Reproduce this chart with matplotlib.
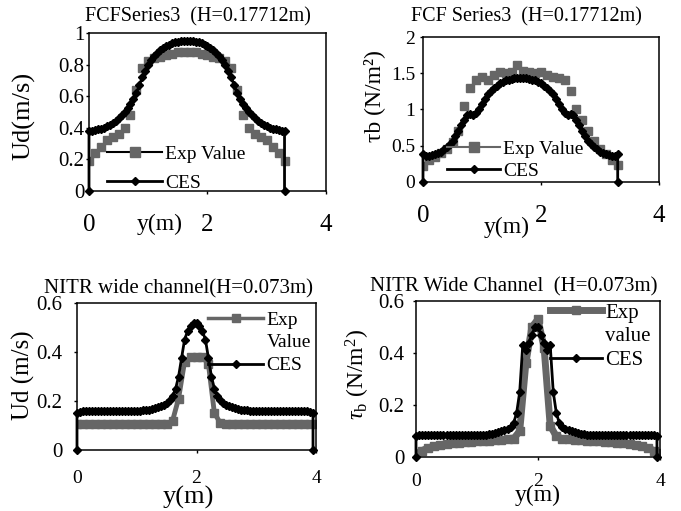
import numpy as np
import matplotlib
matplotlib.use('Agg')
import matplotlib.pyplot as plt
from matplotlib.lines import Line2D

plt.rcParams['font.family'] = ['Liberation Serif', 'DejaVu Serif']
plt.rcParams['mathtext.fontset'] = 'custom'
plt.rcParams['mathtext.rm'] = 'Liberation Serif'
plt.rcParams['mathtext.it'] = 'Liberation Serif:italic'

GRAY = '#666666'
W, H = 681, 511

# ---------------- data ----------------
# FCF Series 3: experiments every 0.1 m, CES every 0.05 m (plus the two wall points at 0)
fcf_exp_y = np.round(np.arange(34) * 0.1, 2)
fcf_ces_y = np.r_[0.0, np.round(np.arange(67) * 0.05, 2), 3.3]

fcf_ud_exp = [0.19, 0.24, 0.28, 0.32, 0.34, 0.36, 0.40, 0.48, 0.64, 0.78, 0.82, 0.84, 0.85, 0.86, 0.87, 0.88, 0.88,
              0.88, 0.88, 0.87, 0.86, 0.85, 0.84, 0.82, 0.78, 0.64, 0.48, 0.40, 0.36, 0.34, 0.32, 0.28, 0.24, 0.19]
fcf_ud_ces = [0.0,
              0.38, 0.382, 0.385, 0.39, 0.395, 0.40, 0.41, 0.42, 0.43, 0.445, 0.46, 0.48, 0.50, 0.525, 0.55, 0.58,
              0.62, 0.67, 0.72, 0.76, 0.80, 0.83, 0.855, 0.875, 0.89, 0.905, 0.915, 0.925, 0.935, 0.94, 0.945,
              0.948, 0.95, 0.95,
              0.95, 0.948, 0.945, 0.94, 0.935, 0.925, 0.915, 0.905, 0.89, 0.875, 0.855, 0.83, 0.80, 0.76, 0.72,
              0.67, 0.62, 0.58, 0.55, 0.525, 0.50, 0.48, 0.46, 0.445, 0.43, 0.42, 0.41, 0.40, 0.395, 0.39, 0.385,
              0.382, 0.38,
              0.0]

fcf_tau_exp = [0.22, 0.30, 0.34, 0.40, 0.46, 0.55, 0.70, 1.05, 1.30, 1.40, 1.45, 1.40, 1.48, 1.52, 1.50, 1.52, 1.62,
               1.53, 1.52, 1.50, 1.52, 1.48, 1.45, 1.44, 1.40, 1.25, 1.00, 0.85, 0.70, 0.56, 0.46, 0.38, 0.30, 0.24]
fcf_tau_ces = [0.0,
               0.38, 0.36, 0.36, 0.37, 0.38, 0.40, 0.42, 0.45, 0.48, 0.52, 0.57, 0.63, 0.70, 0.78, 0.86, 0.93,
               0.94, 0.92, 0.95, 1.01, 1.08, 1.15, 1.21, 1.26, 1.30, 1.33, 1.36, 1.38, 1.40, 1.41, 1.42, 1.43,
               1.43, 1.43,
               1.43, 1.43, 1.42, 1.41, 1.40, 1.38, 1.36, 1.33, 1.30, 1.26, 1.21, 1.15, 1.08, 1.01, 0.95, 0.92,
               0.94, 0.93, 0.86, 0.78, 0.70, 0.63, 0.57, 0.52, 0.48, 0.45, 0.42, 0.40, 0.38, 0.37, 0.36, 0.36, 0.38,
               0.0]

# NITR wide channel: experiments every 0.1 m, CES every 0.05 m
nitr_exp_y = np.round(np.arange(41) * 0.1, 2)
nitr_ces_y = np.r_[0.0, np.round(np.arange(80) * 0.05, 2), 3.95]

nitr_ud_exp = [0.105, 0.105, 0.105, 0.105, 0.105, 0.105, 0.105, 0.105,
               0.105, 0.105, 0.105, 0.105, 0.105, 0.105, 0.105, 0.105,
               0.12, 0.21, 0.36, 0.38, 0.38, 0.38, 0.35, 0.15, 0.11,
               0.105, 0.105, 0.105, 0.105, 0.105, 0.105, 0.105, 0.105,
               0.105, 0.105, 0.105, 0.105, 0.105, 0.105, 0.105, 0.105]
nitr_ud_ces = [0.0,
               0.15, 0.155, 0.158, 0.16,
               0.16, 0.16, 0.16, 0.16, 0.16, 0.16, 0.16, 0.16, 0.16,
               0.16, 0.16, 0.16, 0.16, 0.16, 0.16, 0.16, 0.16, 0.16,
               0.162, 0.163, 0.165, 0.168, 0.172, 0.176, 0.18, 0.185, 0.19,
               0.205, 0.22, 0.25, 0.30, 0.375, 0.45, 0.485, 0.505, 0.52,
               0.52, 0.505, 0.485, 0.45, 0.375, 0.30, 0.25, 0.22, 0.205,
               0.19, 0.185, 0.18, 0.176, 0.172, 0.168, 0.165, 0.163, 0.162,
               0.16, 0.16, 0.16, 0.16, 0.16, 0.16, 0.16, 0.16, 0.16,
               0.16, 0.16, 0.16, 0.16, 0.16, 0.16, 0.16, 0.16, 0.16,
               0.16, 0.158, 0.155, 0.15,
               0.0]

nitr_tau_exp = [0.01, 0.025, 0.035, 0.042, 0.047, 0.05, 0.053, 0.055,
                0.057, 0.058, 0.06, 0.06, 0.062, 0.064, 0.066, 0.068, 0.07,
                0.10, 0.36, 0.50, 0.53, 0.42, 0.12, 0.08,
                0.07, 0.068, 0.066, 0.064, 0.062, 0.06, 0.06, 0.058,
                0.057, 0.055, 0.053, 0.05, 0.047, 0.042, 0.035, 0.025, 0.015]
nitr_tau_ces = [0.0,
                0.08, 0.083, 0.083, 0.083, 0.083, 0.083, 0.083, 0.083,
                0.083, 0.083, 0.083, 0.083, 0.083, 0.083, 0.083, 0.083,
                0.083, 0.083, 0.083, 0.083, 0.083, 0.083, 0.083,
                0.085, 0.087, 0.09, 0.093, 0.097, 0.10, 0.103, 0.107,
                0.115, 0.13, 0.17, 0.25, 0.43, 0.41, 0.44, 0.47, 0.50,
                0.50, 0.47, 0.44, 0.41, 0.43, 0.25, 0.17, 0.13, 0.115,
                0.107, 0.103, 0.10, 0.097, 0.093, 0.09, 0.087, 0.085,
                0.083, 0.083, 0.083, 0.083, 0.083, 0.083, 0.083, 0.083,
                0.083, 0.083, 0.083, 0.083, 0.083, 0.083, 0.083, 0.083,
                0.083, 0.083, 0.083, 0.083, 0.083, 0.083, 0.08,
                0.0]


def px_axes(fig, left, top, right, bottom):
    return fig.add_axes([left / W, 1 - bottom / H, (right - left) / W, (bottom - top) / H])


def ftext(fig, x, y, s, size, **kw):
    fig.text(x / W, 1 - y / H, s, fontsize=size, ha='center', va='center', **kw)


def style(ax, ylim, yticks, xfs, yfs, xpad, ypad):
    ax.set_xlim(0, 4)
    ax.set_ylim(*ylim)
    ax.set_xticks([0, 2, 4])
    ax.set_yticks(yticks)
    ax.set_yticklabels(['%g' % t for t in yticks])
    ax.tick_params(axis='x', direction='out', length=2.5, width=1, labelsize=xfs, pad=xpad)
    ax.tick_params(axis='y', direction='out', length=2.5, width=1, labelsize=yfs, pad=ypad)
    for s in ax.spines.values():
        s.set_linewidth(1.1)


def ces(ax, y, v, ms=4.2):
    ax.plot(y, v, color='k', lw=2, marker='D', ms=ms, clip_on=False, zorder=3)


def legend(ax, handles, labels, x, y, fs, hl, sp):
    ax.legend(handles, labels, loc='upper left', bbox_to_anchor=(x / W, 1 - y / H),
              bbox_transform=fig.transFigure, frameon=False, fontsize=fs, handlelength=hl,
              handletextpad=0.15, labelspacing=sp, borderpad=0, borderaxespad=0)


fig = plt.figure(figsize=(W / 100, H / 100), dpi=100)

# ---------- top-left: FCF Ud ----------
ax1 = px_axes(fig, 89, 33, 326, 191)
ax1.plot(fcf_exp_y, fcf_ud_exp, ls='none', marker='s', ms=6, color=GRAY, zorder=2)
ces(ax1, fcf_ces_y, fcf_ud_ces)
style(ax1, (0, 1), [0, 0.2, 0.4, 0.6, 0.8, 1], 18, 15, 14, 1)
ftext(fig, 198, 17, 'FCFSeries3  (H=0.17712m)', 14.5)
ftext(fig, 24, 116, 'Ud(m/s)', 19, rotation=90)
ftext(fig, 160, 224, 'y(m)', 17)
h1 = [Line2D([], [], color='k', lw=1.5, marker='s', mfc=GRAY, mec=GRAY, ms=7),
      Line2D([], [], color='k', lw=2, marker='D', ms=4)]
legend(ax1, h1, ['Exp Value', 'CES'], 107, 145, 14, 2.85, 0.58)

# ---------- top-right: FCF tau ----------
ax2 = px_axes(fig, 423, 37, 659, 182)
ax2.plot(fcf_exp_y, fcf_tau_exp, ls='none', marker='s', ms=6, color=GRAY, zorder=2)
ces(ax2, fcf_ces_y, fcf_tau_ces)
style(ax2, (0, 2), [0, 0.5, 1, 1.5, 2], 18, 14, 14, 3)
ftext(fig, 526, 17, 'FCF Series3  (H=0.17712m)', 14.5)
ftext(fig, 374, 96, 'τb (N/m²)', 17, rotation=90)
ftext(fig, 507, 227, 'y(m)', 17)
h2 = [Line2D([], [], color=GRAY, lw=1.5, marker='s', mfc=GRAY, mec=GRAY, ms=7),
      Line2D([], [], color='k', lw=2, marker='D', ms=4)]
legend(ax2, h2, ['Exp Value', 'CES'], 447, 140, 14, 2.75, 0.25)

# ---------- bottom-left: NITR Ud ----------
ax3 = px_axes(fig, 77, 303, 316, 450)
ax3.plot(nitr_exp_y, nitr_ud_exp, color=GRAY, lw=3.5, marker='s', ms=6, zorder=2)
ces(ax3, nitr_ces_y, nitr_ud_ces, ms=3.8)
style(ax3, (0, 0.6), [0, 0.2, 0.4, 0.6], 14, 15, 12, 8)
ftext(fig, 179, 289, 'NITR wide channel(H=0.073m)', 15)
ftext(fig, 23, 375, 'Ud (m/s)', 18, rotation=90)
ftext(fig, 188, 497, 'y(m)', 19)
h3 = [Line2D([], [], color=GRAY, lw=2.5, marker='s', ms=6),
      Line2D([], [], color='none'),
      Line2D([], [], color='k', lw=2, marker='D', ms=4)]
legend(ax3, h3, ['Exp', 'Value', 'CES'], 208, 311, 14, 2.85, 0.27)

# ---------- bottom-right: NITR tau ----------
ax4 = px_axes(fig, 416, 301, 660, 457)
ax4.plot(nitr_exp_y, nitr_tau_exp, color=GRAY, lw=5, marker='s', ms=6, zorder=2)
ces(ax4, nitr_ces_y, nitr_tau_ces, ms=3.8)
style(ax4, (0, 0.6), [0, 0.2, 0.4, 0.6], 14, 15, 9, 6)
ftext(fig, 514, 287, 'NITR Wide Channel  (H=0.073m)', 15)
ftext(fig, 358, 375, r'$\tau_{\rm b}$ (N/m$^2$)', 17, rotation=90)
ftext(fig, 538, 495, 'y(m)', 17)
h4 = [Line2D([], [], color=GRAY, lw=5, marker='s', ms=6),
      Line2D([], [], color='none'),
      Line2D([], [], color='k', lw=2, marker='D', ms=4)]
legend(ax4, h4, ['Exp', 'value', 'CES'], 550, 303, 15, 2.5, 0.2)

fig.savefig('out.png', dpi=100)
